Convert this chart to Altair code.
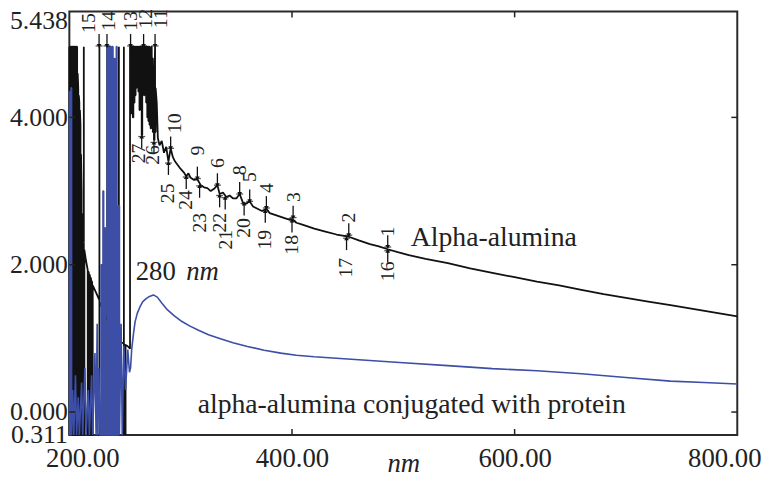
import altair as alt
import pandas as pd

FONT = "Liberation Serif, Tinos, Times New Roman, DejaVu Serif, serif"

# ---- Alpha-alumina spectrum (black) ----
black_nm = [200.0, 200.0, 200.5, 200.5, 201.0, 201.0, 201.5, 201.5, 202.0, 202.0, 202.5, 202.5, 203.0, 203.0,
            203.5, 203.5, 204.0, 204.0, 204.5, 204.5, 205.0, 205.0, 205.5, 205.5, 206.0, 206.0, 206.5, 206.5,
            207.0, 207.0, 207.5, 207.5, 208.0, 208.0, 208.5, 208.5, 209.0, 209.0, 209.5, 209.5, 210.0, 210.0,
            210.5, 210.5,
            211.0, 211.0, 211.5, 211.5, 212.0, 212.0, 212.5, 212.5, 213.0, 213.0, 213.0, 213.5, 213.5, 215.0,
            216.5, 216.5, 217.0, 217.0, 217.5, 217.5, 218.0, 218.0, 218.5, 218.5, 219.0, 219.0, 219.5, 219.5,
            220.0, 220.0, 220.5, 220.5, 221.0, 221.0,
            224.0, 227.0, 227.0, 227.0, 227.0, 231.0,
            234.0, 234.0, 234.0, 234.0, 238.0, 242.0, 244.5, 244.5, 244.5, 244.5, 249.0, 249.0, 249.0, 249.0,
            250.5, 250.5, 250.5, 252.0, 254.5, 254.5,
            255.0, 255.0, 255.5, 255.5, 256.0, 256.0, 256.5, 256.5, 257.0, 257.0, 257.5, 257.5, 258.0, 258.0,
            258.5, 258.5, 259.0, 259.0, 259.5, 259.5, 260.0, 260.0, 260.5, 260.5, 261.0, 261.0, 261.5, 261.5,
            262.0, 262.0, 262.5, 262.5, 263.0, 263.0, 263.5, 263.5, 264.0, 264.0, 264.5, 264.5, 265.0, 265.0,
            265.5, 265.5, 266.0, 266.0, 266.5, 266.5, 267.0, 267.0, 267.5, 267.5, 268.0, 268.0, 268.5, 268.5,
            269.0, 269.0, 269.5, 269.5, 270.0, 270.0, 270.5, 270.5, 271.0, 271.0, 271.5, 271.5, 272.0, 272.0,
            272.5, 272.5, 273.0, 273.0, 273.5, 273.5, 274.0, 274.0, 274.5, 274.5, 275.0, 275.0, 275.5, 275.5,
            276.0, 276.0, 276.5, 276.5, 277.0, 277.0, 277.5, 277.5, 278.5, 279.5,
            281, 283, 285, 287, 289, 291, 293, 295, 297, 300, 303, 305, 307, 309, 312, 315, 318, 321, 324, 327,
            330, 333, 335, 338, 341, 344, 347, 350, 353, 356, 359, 362, 365, 369, 373, 377, 380, 384, 388, 392,
            396, 400, 404, 410, 420, 430, 440, 451, 460, 470, 478, 486, 495, 505, 520, 540, 560, 580, 600, 620,
            640, 660, 680, 700, 720, 740, 760, 780, 800]
black_abs = [4.96, -0.31, -0.31, 4.96, 4.96, -0.31, -0.31, 4.96, 4.96, -0.31, -0.31, 4.96, 4.96, -0.31,
             -0.31, 4.96, 4.96, -0.31, -0.31, 4.96, 4.96, -0.31, -0.31, 4.96, 4.96, -0.31, -0.31, 4.96,
             4.96, -0.31, -0.31, 4.60, 4.40, -0.31, -0.31, 4.30, 4.20, -0.31, -0.31, 4.10, 3.90, -0.31,
             -0.31, 3.50,
             3.00, -0.31, -0.31, 2.70, 2.55, -0.31, -0.31, 2.40, 2.30, 4.96, -0.31, -0.31, 2.20, 2.05,
             1.93, -0.31, -0.31, 1.91, 1.89, -0.31, -0.31, 1.87, 1.85, -0.31, -0.31, 1.83, 1.81, -0.31,
             -0.31, 1.78, 1.76, -0.31, -0.31, 1.72,
             1.62, 1.52, 4.96, -0.31, 1.50, 1.36,
             1.24, 4.96, -0.31, 1.22, 1.10, 1.00, 0.97, -0.31, 4.96, 0.96, 0.93, -0.31, 4.96, 0.92,
             0.91, -0.31, 0.91, 0.90, 0.86, 4.96,
             4.96, 4.05, 4.05, 4.96, 4.96, 4.10, 4.10, 4.96, 4.96, 4.00, 4.00, 4.96, 4.96, 4.20,
             4.20, 4.96, 4.96, 4.30, 4.30, 4.96, 4.96, 4.40, 4.40, 4.96, 4.96, 4.45, 4.45, 4.96,
             4.96, 4.35, 4.35, 4.96, 4.96, 4.10, 4.10, 4.96, 4.96, 4.50, 4.50, 4.96, 4.96, 3.76,
             3.76, 4.96, 4.96, 4.55, 4.55, 4.96, 4.96, 4.30, 4.30, 4.96, 4.96, 4.50, 4.50, 4.96,
             4.96, 4.20, 4.20, 4.96, 4.96, 4.00, 4.00, 4.96, 4.96, 3.95, 3.95, 4.96, 4.96, 3.90,
             3.90, 4.90, 4.90, 3.85, 3.85, 4.96, 4.96, 3.90, 3.90, 4.80, 4.80, 3.80, 3.80, 4.70,
             4.70, 3.69, 3.69, 4.60, 4.96, 3.80, 3.80, 4.40, 4.20, 3.72,
             3.62, 3.68, 3.52, 3.60, 3.40, 3.58, 3.46, 3.40, 3.36, 3.30, 3.25, 3.20, 3.24, 3.18, 3.15, 3.16,
             3.08, 3.05, 3.04, 3.00, 3.03, 3.08, 2.96, 2.98, 2.92, 2.94, 2.90, 2.90, 2.96, 2.84, 2.83, 2.86,
             2.79, 2.76, 2.73, 2.76, 2.70, 2.68, 2.66, 2.64, 2.62, 2.62, 2.57, 2.54, 2.49, 2.45, 2.41, 2.38,
             2.33, 2.28, 2.25, 2.21, 2.17, 2.13, 2.08, 2.02, 1.95, 1.89, 1.83, 1.77, 1.72, 1.66, 1.60, 1.55,
             1.50, 1.45, 1.40, 1.35, 1.30]

# ---- Alpha-alumina conjugated with protein (blue) ----
blue_nm = [200.2, 200.2, 200.8, 200.8, 201.5, 201.5, 202.0, 202.0, 203.0, 204.0, 205.5, 206.5, 208.0, 209.0,
           211.0, 212.0, 214.0, 215.0, 217.0, 218.0, 220.0, 221.0, 223.0, 224.0, 225.0, 225.5, 226.5, 227.5,
           228.5, 228.5, 229.2, 229.2, 230.2, 230.2, 230.8, 230.8, 231.8, 231.8, 232.4, 232.4, 233.4,
           234.0, 234.0, 234.6, 234.6, 235.4, 235.4, 236.0, 236.0, 237.0, 237.0, 237.6, 237.6, 238.6, 238.6,
           239.2, 239.2, 240.4, 240.4, 241.0, 241.0, 242.2, 242.2, 242.8, 242.8, 244.0, 244.0, 245.0, 245.0,
           246.5, 247.5, 249.0, 250.5, 252.5, 254.0, 255.0, 256.0, 257.5, 259.0, 261.0,
           263.5, 266.0, 269.0, 272.0, 275.5, 279.0, 283.0, 288.0, 294.0, 300.0, 308.0, 316.0, 325.0, 335.0,
           347.0, 360.0, 375.0, 390.0, 404.0, 420.0, 440.0, 460.0, 480.0, 500.0, 540.0, 580.0, 620.0, 660.0,
           700.0, 740.0, 770.0, 800.0]
blue_abs = [-0.31, 4.35, 4.35, -0.31, -0.31, 4.40, 4.40, -0.31, 0.30, -0.31, 0.50, -0.31, 0.20, -0.31,
            0.40, -0.31, 0.60, -0.31, 0.30, -0.31, 0.50, -0.31, 0.80, -0.31, 1.20, -0.31, 0.60, -0.31,
            -0.31, 2.00, 2.00, -0.31, -0.31, 3.00, 3.00, -0.31, -0.31, 2.50, 2.50, -0.31, -0.31,
            -0.31, 4.96, 4.96, -0.31, -0.31, 4.96, 4.96, -0.31, -0.31, 4.96, 4.96, -0.31, -0.31, 4.96,
            4.96, -0.31, -0.31, 4.80, 4.80, -0.31, -0.31, 4.96, 4.96, -0.31, -0.31, 2.80, 2.80, -0.31,
            1.20, -0.31, 0.90, 0.30, 0.85, 0.54, 0.60, 0.85, 1.05, 1.22, 1.34,
            1.43, 1.50, 1.54, 1.57, 1.59, 1.56, 1.48, 1.39, 1.31, 1.24, 1.17, 1.11, 1.05, 1.00,
            0.94, 0.89, 0.84, 0.80, 0.77, 0.75, 0.73, 0.71, 0.69, 0.67, 0.63, 0.59, 0.56, 0.52,
            0.47, 0.42, 0.40, 0.38]

# ---- numbered peak / valley markers ----
peak_ids = ["1", "2", "3", "4", "5", "6", "8", "9", "10", "11", "12", "13", "14", "15",
            "16", "17", "18", "19", "20", "21", "22", "23", "24", "25", "26", "27"]
peak_label_nm = [486.2, 451.6, 401.8, 377.8, 362.7, 333.3, 353.8, 315.6, 295.1, 282.7, 269.3, 255.1, 235.6, 217.8,
                 486.2, 448.9, 400.0, 376.0, 357.3, 340.4, 335.1, 317.3, 304.9, 288.9, 275.6, 262.2]
peak_label_abs = [2.45, 2.64, 2.92, 3.04, 3.19, 3.38, 3.28, 3.55, 3.92, 5.34, 5.34, 5.31, 5.31, 5.28,
                  1.91, 1.96, 2.27, 2.34, 2.50, 2.34, 2.57, 2.57, 2.88, 2.97, 3.49, 3.51]
peak_tip_nm = [486, 451, 401, 377, 362, 333, 353, 315, 291, 277, 266.7, 255, 233.8, 226.7,
               486, 449, 400, 376, 357, 340, 335, 317, 305, 289, 276, 265]
peak_tip_abs = [2.24, 2.40, 2.64, 2.77, 2.86, 3.08, 2.96, 3.17, 3.58, 4.97, 4.97, 4.97, 4.97, 4.97,
                2.19, 2.36, 2.60, 2.73, 2.83, 2.91, 2.94, 3.07, 3.19, 3.38, 3.66, 3.74]
peak_kind = ["peak"] * 14 + ["valley"] * 12

x_tick_values = [200, 400, 600, 800]
y_tick_values = [-0.311, 0.0, 2.0, 4.0, 5.438]
inner_x_ticks = [400, 600]
inner_y_ticks = [0.0, 2.0, 4.0]

ann_text = ["Alpha-alumina", "alpha-alumina conjugated with protein", "280"]
ann_nm = [581.3, 507.6, 259.6]
ann_abs = [2.36, 0.10, 1.90]
ann_align = ["center", "center", "left"]

# ---------------------------------------------------------------
xscale = alt.Scale(domain=[200, 800], nice=False, zero=False)
yscale = alt.Scale(domain=[-0.311, 5.438], nice=False, zero=False)

xaxis = alt.Axis(values=x_tick_values, format=".2f", labelFlush=True, labelFlushOffset=24,
                 labelPadding=11, ticks=False, tickSize=0, domain=False, grid=False, labelOverlap=False,
                 labelFont=FONT, labelFontSize=27, labelColor="#222",
                 title="nm", titleFont=FONT, titleFontSize=27, titleFontStyle="italic",
                 titleFontWeight="normal", titleColor="#222", titleBaseline="alphabetic", titleY=37)
yaxis = alt.Axis(values=y_tick_values,
                 labelExpr="datum.value < 0 ? '0.311' : format(datum.value, '.3f')",
                 ticks=False, tickSize=0, domain=False, grid=False, labelOverlap=False,
                 labelFont=FONT, labelFontSize=26, labelColor="#222", labelPadding=2,
                 labelOffset={"condition": {"test": "datum.value > 5", "value": 9}, "value": 0},
                 title=None)

black_df = pd.DataFrame({"x": black_nm, "y": black_abs, "i": list(range(len(black_nm)))})
blue_df = pd.DataFrame({"x": blue_nm, "y": blue_abs, "i": list(range(len(blue_nm)))})

black_line = alt.Chart(black_df).mark_line(color="#111111", strokeWidth=1.8, strokeJoin="bevel").encode(
    x=alt.X("x:Q", scale=xscale, axis=xaxis),
    y=alt.Y("y:Q", scale=yscale, axis=yaxis),
    order="i:Q",
)
blue_line = alt.Chart(blue_df).mark_line(color="#3c4ea6", strokeWidth=1.6, strokeJoin="bevel").encode(
    x="x:Q", y="y:Q", order="i:Q"
)

mk_df = pd.DataFrame({"x": peak_tip_nm, "y": peak_tip_abs, "kind": peak_kind})
lab_df = pd.DataFrame({"x": peak_label_nm, "y": peak_label_abs, "t": peak_ids})

peak_mk = mk_df[mk_df.kind == "peak"]
valley_mk = mk_df[mk_df.kind == "valley"]

peak_stem = alt.Chart(peak_mk).mark_rule(color="#111", strokeWidth=1.3, y2Offset=-12).encode(
    x="x:Q", y="y:Q", y2="y:Q")
valley_stem = alt.Chart(valley_mk).mark_rule(color="#111", strokeWidth=1.3, y2Offset=12).encode(
    x="x:Q", y="y:Q", y2="y:Q")
peak_head = alt.Chart(peak_mk).mark_point(shape="triangle-down", filled=True, color="#111", size=22,
                                          opacity=1).encode(x="x:Q", y="y:Q")
valley_head = alt.Chart(valley_mk).mark_point(shape="triangle-up", filled=True, color="#111", size=22,
                                              opacity=1).encode(x="x:Q", y="y:Q")
peak_cross = alt.Chart(mk_df).mark_tick(orient="horizontal", color="#111", size=7, thickness=1.3).encode(
    x="x:Q", y="y:Q")

peak_text = alt.Chart(lab_df).mark_text(font=FONT, fontSize=20, angle=270, align="center",
                                        baseline="middle", color="#222").encode(
    x="x:Q", y="y:Q", text="t:N")

ann_df = pd.DataFrame({"x": ann_nm, "y": ann_abs, "t": ann_text, "a": ann_align})
ann_center = alt.Chart(ann_df[ann_df.a == "center"]).mark_text(
    font=FONT, fontSize=28, align="center", baseline="middle", color="#222").encode(
    x="x:Q", y="y:Q", text="t:N")
ann_left = alt.Chart(ann_df[ann_df.a == "left"]).mark_text(
    font=FONT, fontSize=27, align="left", baseline="middle", color="#222").encode(
    x="x:Q", y="y:Q", text="t:N")
nm_df = pd.DataFrame({"x": [304.9], "y": [1.90], "t": ["nm"]})
ann_nm_unit = alt.Chart(nm_df).mark_text(
    font=FONT, fontSize=27, fontStyle="italic", align="left", baseline="middle", color="#222").encode(
    x="x:Q", y="y:Q", text="t:N")

# inward tick marks on all four sides
ix_df = pd.DataFrame({"x": inner_x_ticks})
iy_df = pd.DataFrame({"y": inner_y_ticks})
tick_bottom = alt.Chart(ix_df).mark_rule(color="#222", strokeWidth=1.5, y2Offset=-6).encode(
    x="x:Q", y=alt.datum(-0.311), y2=alt.datum(-0.311))
tick_top = alt.Chart(ix_df).mark_rule(color="#222", strokeWidth=1.5, y2Offset=6).encode(
    x="x:Q", y=alt.datum(5.438), y2=alt.datum(5.438))
tick_left = alt.Chart(iy_df).mark_rule(color="#222", strokeWidth=1.5, x2Offset=6).encode(
    y="y:Q", x=alt.datum(200), x2=alt.datum(200))
tick_right = alt.Chart(iy_df).mark_rule(color="#222", strokeWidth=1.5, x2Offset=-6).encode(
    y="y:Q", x=alt.datum(800), x2=alt.datum(800))

chart = alt.layer(
    black_line, blue_line, peak_stem, valley_stem, peak_head, valley_head, peak_cross, peak_text,
    ann_center, ann_left, ann_nm_unit, tick_bottom, tick_top, tick_left, tick_right
).properties(
    width=675, height=428,
    autosize=alt.AutoSizeParams(type="none"),
    padding={"left": 62, "top": 1, "right": 26, "bottom": 40},
    background="white",
).configure_view(
    stroke="#2a2a2a", strokeWidth=2
)

chart.save("out.html", embed_options={"renderer": "svg", "actions": False})
